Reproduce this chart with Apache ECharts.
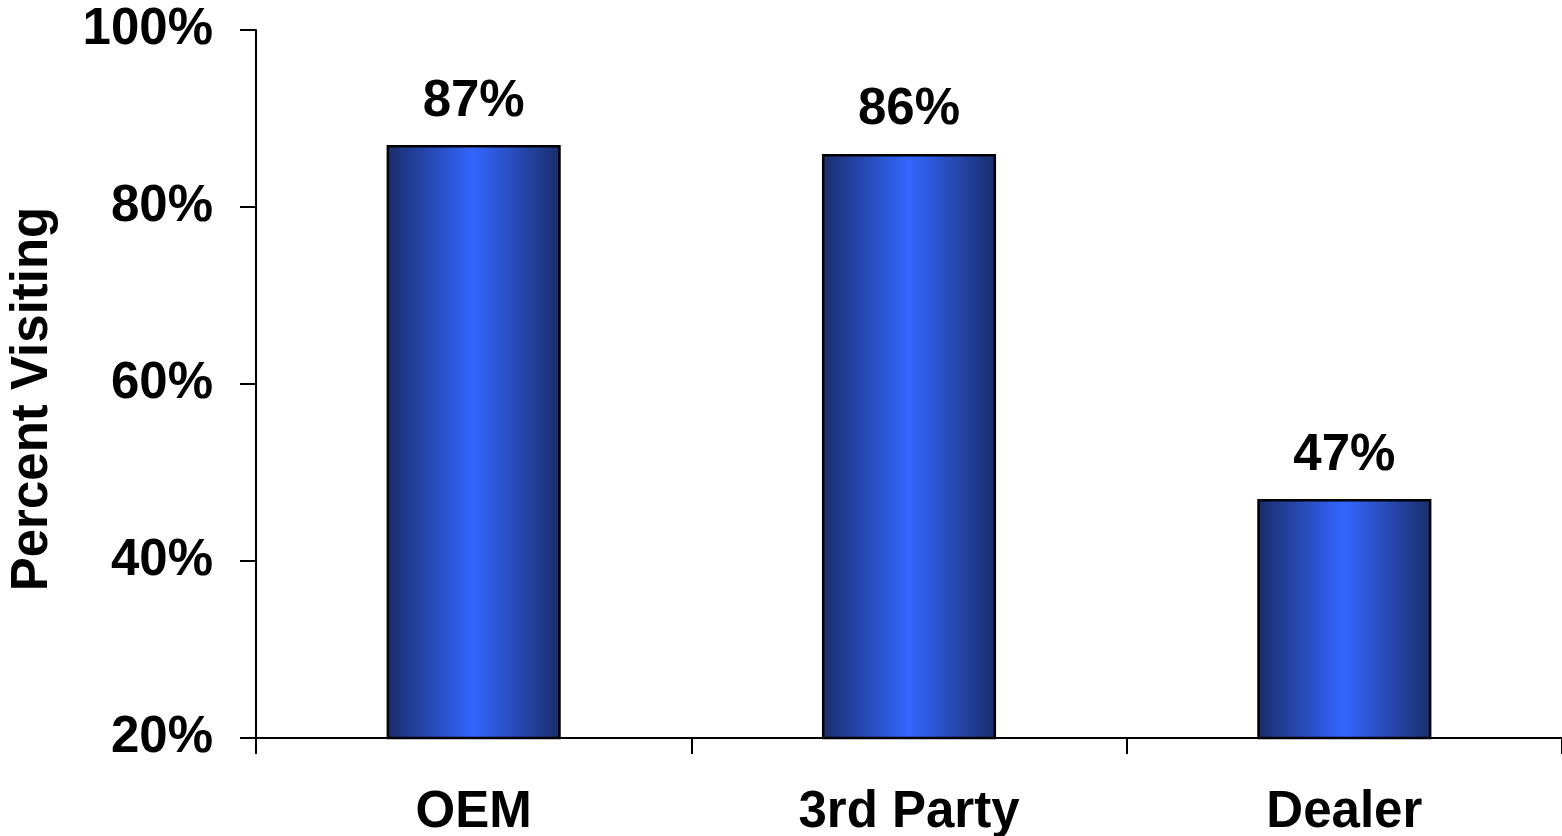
<!DOCTYPE html>
<html>
<head>
<meta charset="utf-8">
<script src="https://cdn.jsdelivr.net/npm/echarts@6/dist/echarts.min.js"></script>
<style>
html,body{margin:0;padding:0;background:#fff;}
#chart{width:1562px;height:836px;}
</style>
</head>
<body>
<div id="chart"></div>
<script>
var categories = ['OEM', '3rd Party', 'Dealer'];
var values = [87, 86, 47];
var yTicks = [20, 40, 60, 80, 100];
var yAxisTitle = 'Percent Visiting';

var FONT = '"Liberation Sans", Arial, sans-serif';
var chart = echarts.init(document.getElementById('chart'), null, {renderer: 'canvas'});
chart.setOption({
  animation: false,
  backgroundColor: '#ffffff',
  grid: {left: 256, right: 0, top: 30, bottom: 98, containLabel: false, outerBoundsMode: 'none'},
  xAxis: {
    type: 'category',
    data: categories,
    axisLine: {lineStyle: {color: '#000', width: 2}},
    axisTick: {show: true, length: 16, lineStyle: {color: '#000', width: 2}},
    axisLabel: {color: '#000', fontFamily: FONT, fontWeight: 'bold', fontSize: 51, margin: 49}
  },
  yAxis: {
    type: 'value',
    min: yTicks[0],
    max: yTicks[yTicks.length - 1],
    interval: 20,
    name: yAxisTitle,
    nameLocation: 'middle',
    nameRotate: 90,
    nameGap: 198,
    nameTextStyle: {color: '#000', fontFamily: FONT, fontWeight: 'bold', fontSize: 51, padding: [0, 30, 0, 0]},
    axisLine: {show: true, lineStyle: {color: '#000', width: 2}},
    axisTick: {show: true, length: 16, lineStyle: {color: '#000', width: 2}},
    splitLine: {show: false},
    axisLabel: {color: '#000', fontFamily: FONT, fontWeight: 'bold', fontSize: 51, margin: 43,
      formatter: function (v) { return v + '%'; }}
  },
  series: [{
    type: 'bar',
    data: values,
    barWidth: '40%',
    itemStyle: {
      color: new echarts.graphic.LinearGradient(0, 0, 1, 0, [
        {offset: 0, color: '#1a2d6a'},
        {offset: 0.5, color: '#3366ff'},
        {offset: 1, color: '#1a2d6a'}
      ]),
      borderColor: '#000',
      borderWidth: 2.5
    },
    label: {
      show: true, position: 'top', distance: 18,
      color: '#000', fontFamily: FONT, fontWeight: 'bold', fontSize: 51,
      formatter: function (p) { return p.value + '%'; }
    }
  }]
});
</script>
</body>
</html>
